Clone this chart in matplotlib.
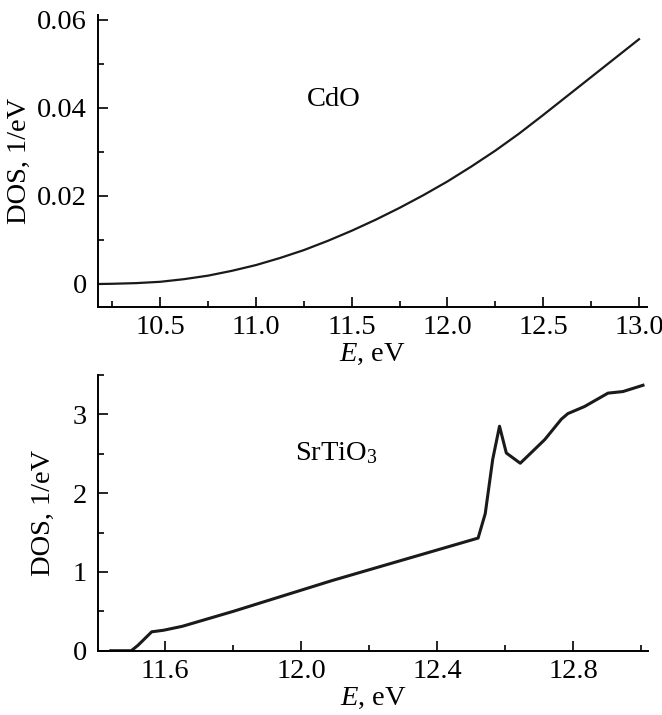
import numpy as np
import matplotlib
matplotlib.use("Agg")
import matplotlib.pyplot as plt
from matplotlib.ticker import MultipleLocator, FuncFormatter

plt.rcParams['font.family'] = ['Liberation Serif', 'DejaVu Serif']
plt.rcParams['mathtext.fontset'] = 'custom'
plt.rcParams['mathtext.rm'] = 'Liberation Serif'
plt.rcParams['mathtext.it'] = 'Liberation Serif:italic'
plt.rcParams['font.size'] = 20.5

# CdO density of states
e_cdo = [10.18, 10.25, 10.375, 10.5, 10.625, 10.75, 10.875, 11.0, 11.125, 11.25,
         11.375, 11.5, 11.625, 11.75, 11.875, 12.0, 12.125, 12.25, 12.375, 12.5,
         12.625, 12.75, 12.875, 13.0]
dos_cdo = [0.0, 0.00005, 0.0002, 0.0005, 0.0011, 0.0019, 0.0030, 0.0043, 0.0059, 0.0077,
           0.0098, 0.0121, 0.0146, 0.0173, 0.0202, 0.0233, 0.0267, 0.0303, 0.0342, 0.0384,
           0.0427, 0.0470, 0.0513, 0.0556]

# SrTiO3 density of states
e_sto = [11.44, 11.5, 11.52, 11.56, 11.595, 11.65, 11.8, 12.09, 12.52, 12.541,
         12.563, 12.583, 12.603, 12.644, 12.716, 12.765, 12.784, 12.833, 12.902,
         12.946, 13.005]
dos_sto = [0.0, 0.0, 0.07, 0.24, 0.26, 0.31, 0.50, 0.89, 1.43, 1.74,
           2.43, 2.85, 2.51, 2.38, 2.68, 2.94, 3.01, 3.10, 3.27,
           3.29, 3.37]

fig = plt.figure(figsize=(6.62, 7.15), dpi=100)
ax1 = fig.add_axes([0.148, 0.5706, 0.830, 0.4084])
ax2 = fig.add_axes([0.148, 0.0899, 0.831, 0.3856])


def style(ax):
    for s in ['top', 'right']:
        ax.spines[s].set_visible(False)
    for s in ['left', 'bottom']:
        ax.spines[s].set_linewidth(1.4)
    ax.tick_params(which='both', direction='in', width=1.2, labelsize=20.5)
    ax.tick_params(which='major', length=7)
    ax.tick_params(which='minor', length=4.5)
    ax.tick_params(axis='y', pad=8)
    ax.tick_params(axis='x', pad=6)


ax1.plot(e_cdo, dos_cdo, color='#1a1a1a', lw=1.6, solid_joinstyle='round')
ax1.set_xlim(10.175, 13.044)
ax1.set_ylim(-0.00523, 0.0611)
ax1.xaxis.set_major_locator(MultipleLocator(0.5))
ax1.xaxis.set_minor_locator(MultipleLocator(0.25))
ax1.yaxis.set_major_locator(MultipleLocator(0.02))
ax1.yaxis.set_minor_locator(MultipleLocator(0.01))
ax1.xaxis.set_major_formatter(FuncFormatter(lambda v, p: f"{v:.1f}"))
ax1.yaxis.set_major_formatter(FuncFormatter(lambda v, p: "0" if abs(v) < 1e-9 else f"{v:.2f}"))
ax1.set_xlabel(r'$E$, eV', labelpad=1)
ax1.set_ylabel('DOS, 1/eV', labelpad=4)
ax1.text(0.380, 0.688, 'CdO', transform=ax1.transAxes, va='baseline')
style(ax1)

ax2.plot(e_sto, dos_sto, color='#1a1a1a', lw=2.2, solid_joinstyle='round')
ax2.set_xlim(11.402, 13.02)
ax2.set_ylim(0, 3.5)
ax2.xaxis.set_major_locator(MultipleLocator(0.4))
ax2.xaxis.set_minor_locator(MultipleLocator(0.2))
ax2.yaxis.set_major_locator(MultipleLocator(1))
ax2.yaxis.set_minor_locator(MultipleLocator(0.5))
ax2.xaxis.set_major_formatter(FuncFormatter(lambda v, p: f"{v:.1f}"))
ax2.yaxis.set_major_formatter(FuncFormatter(lambda v, p: f"{v:.0f}"))
ax2.set_xlabel(r'$E$, eV', labelpad=1)
ax2.set_ylabel('DOS, 1/eV', labelpad=12)
ax2.text(0.358, 0.692, 'SrTiO$_3$', transform=ax2.transAxes, va='baseline')
style(ax2)

fig.savefig('out.png', dpi=100)
